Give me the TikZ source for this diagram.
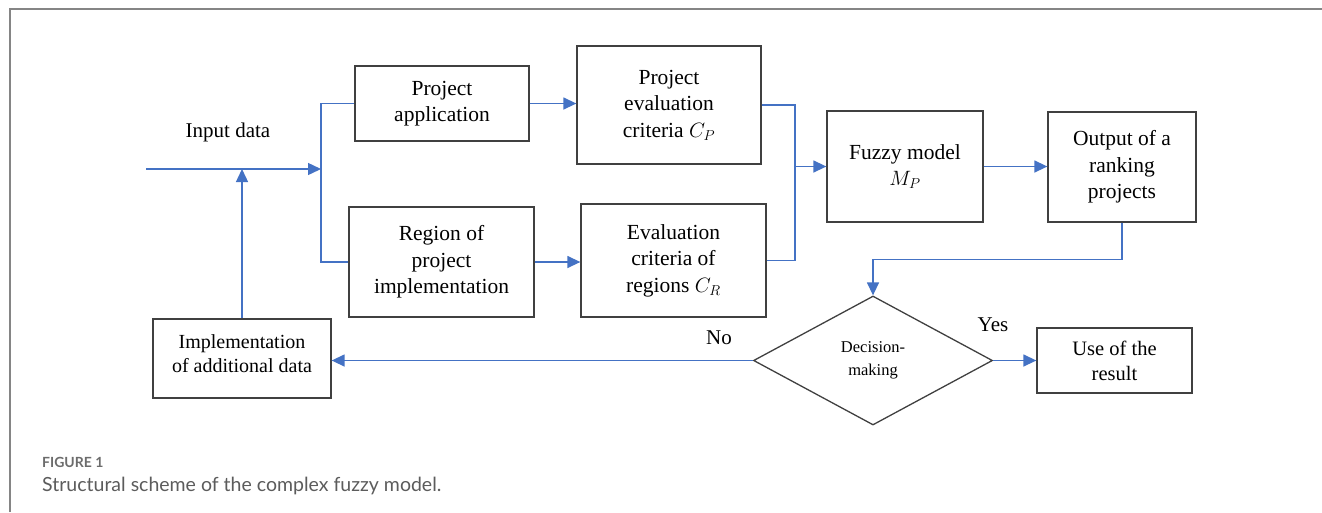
\documentclass[tikz,border=0pt]{standalone}
\usepackage{fontspec}
\setmainfont{Liberation Serif}
\newfontfamily\capfont{Lato}
\usetikzlibrary{arrows.meta,shapes.geometric}
\definecolor{linkblue}{HTML}{4472C4}
\definecolor{boxgray}{HTML}{404040}
\definecolor{framegray}{HTML}{858585}
\definecolor{capgray}{HTML}{5C5C5C}
\tikzset{
  blk/.style={draw=boxgray, line width=1.3pt, align=center, inner sep=0pt,
    font=\fontsize{21.5}{26.5}\selectfont},
  flow/.style={draw=linkblue, line width=1.4pt},
  flowarr/.style={flow, -{Triangle[length=13pt,width=12pt]}},
  lbl/.style={font=\fontsize{21}{25}\selectfont},
}
\begin{document}
\begin{tikzpicture}[x=1pt,y=-1pt]
  \useasboundingbox (0,0) rectangle (1322,512);
  \draw[framegray, line width=2pt] (10,512) -- (10,9) -- (1322,9);
  % blocks
  \node[blk, minimum width=174, minimum height=75] (app) at (442,103.5) {Project\\application};
  \node[blk, minimum width=185, minimum height=110] (reg) at (441.5,262) {Region of\\project\\implementation};
  \node[blk, minimum width=184, minimum height=118] (pec) at (669,105) {Project\\evaluation\\criteria $C_P$};
  \node[blk, minimum width=185, minimum height=113] (ecr) at (673.5,260.5) {Evaluation\\criteria of\\regions $C_R$};
  \node[blk, minimum width=156, minimum height=111] (fuzzy) at (905,166.5) {Fuzzy model\\$M_P$};
  \node[blk, minimum width=148, minimum height=110] (out) at (1122,167) {Output of a\\ranking\\projects};
  \node[blk, minimum width=178, minimum height=79, font=\fontsize{20}{24}\selectfont] (impl) at (242,358.5) {Implementation\\of additional data\\[-14pt]};
  \node[blk, minimum width=155, minimum height=65, font=\fontsize{20.5}{25}\selectfont] (use) at (1114.5,360.5) {Use of the\\result};
  \node[blk, diamond, minimum width=239, minimum height=129, font=\fontsize{16.5}{23}\selectfont] (dec) at (873,360.5) {Decision-\\making};
  % labels
  \node[lbl] (inlbl) at (228,132) {Input data};
  \node[lbl] (nolbl) at (719,338) {No};
  \node[lbl] (yeslbl) at (993,325) {Yes};
  % connectors
  \coordinate (src) at (146,169);
  \coordinate (split) at (321,169);
  \coordinate (mrg) at (795,166.5);
  \draw[flowarr] (src) -- (split);
  \draw[flow] (app.west) -| (split) |- (reg.west);
  \draw[flowarr] (impl.north) -- (impl.north |- split);
  \draw[flowarr] (app.east) -- (pec.west |- app.east);
  \draw[flowarr] (reg.east) -- (ecr.west |- reg.east);
  \draw[flow] (pec.east) -| (mrg);
  \draw[flow] (ecr.east) -| (mrg);
  \draw[flowarr] (mrg) -- (fuzzy.west |- mrg);
  \draw[flowarr] (fuzzy.east) -- (out.west |- fuzzy.east);
  \draw[flowarr] (out.south) -- ++(0,37) -| (dec.north);
  \draw[flowarr] (dec.west) -- (impl.east |- dec.west);
  \draw[flowarr] (dec.east) -- (use.west);
  % caption
  \node[anchor=west, inner sep=0pt, text=capgray!90, font=\capfont\bfseries\fontsize{14}{16}\selectfont] (fignum) at (42,462) {FIGURE 1};
  \node[anchor=west, inner sep=0pt, text=capgray, font=\capfont\fontsize{19.5}{22}\selectfont] (figcap) at (42,486) {Structural scheme of the complex fuzzy model.};
\end{tikzpicture}
\end{document}
